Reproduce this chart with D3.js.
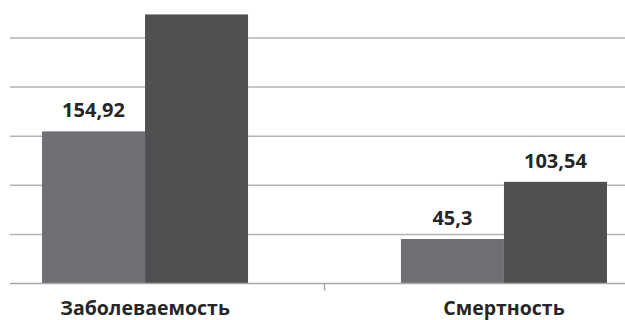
<!DOCTYPE html>
<html><head><meta charset="utf-8">
<script src="https://cdn.jsdelivr.net/npm/d3@7"></script>
<style>body{margin:0;background:#fff;}svg{display:block;}</style>
</head><body>
<svg id="c" width="625" height="320"></svg>
<script>
const categories = ["Заболеваемость", "Смертность"];
const series = ["s1", "s2"];
const values1 = [154.92, 45.3];
const values2 = [274, 103.54];
const labels1 = ["154,92", "45,3"];
const labels2 = ["", "103,54"];
const yTicks = [0, 50, 100, 150, 200, 250, 300];
const colors = ["#6f7074", "#505052"];

const svg = d3.select("#c");
const y = d3.scaleLinear().domain([0, 300]).range([283.5, -11.1]);
const x = d3.scaleBand().domain(categories).range([-34.4, 683.4]).padding(0);
const xs = d3.scaleBand().domain(series).range([0, x.bandwidth()]).paddingInner(0).paddingOuter(0.742);

// gridlines
svg.append("g").selectAll("line").data(yTicks.filter(d => d > 0)).join("line")
  .attr("x1", 10).attr("x2", 625)
  .attr("y1", d => y(d)).attr("y2", d => y(d))
  .attr("stroke", "#b3b3b3").attr("stroke-width", 1.5);

const data = categories.map((c, i) => ({c, vals: [values1[i], values2[i]], labs: [labels1[i], labels2[i]]}));
const g = svg.append("g").selectAll("g").data(data).join("g")
  .attr("transform", d => `translate(${x(d.c)},0)`);
g.selectAll("rect").data(d => d.vals.map((v, j) => ({v, s: series[j], j}))).join("rect")
  .attr("x", d => xs(d.s)).attr("width", xs.bandwidth())
  .attr("y", d => y(d.v)).attr("height", d => y(0) - y(d.v))
  .attr("fill", d => colors[d.j]);
g.selectAll("text").data(d => d.vals.map((v, j) => ({v, s: series[j], lab: d.labs[j]})).filter(d => d.lab)).join("text")
  .attr("x", d => xs(d.s) + xs.bandwidth() / 2).attr("y", d => y(d.v) - 14)
  .attr("text-anchor", "middle")
  .attr("font-family", "Open Sans, sans-serif").attr("font-weight", "bold")
  .attr("font-size", 20).attr("fill", "#262626")
  .text(d => d.lab);

// x axis
const xAxis = d3.axisBottom(x).tickSize(0).tickPadding(17.5);
const ax = svg.append("g").attr("transform", `translate(0,${y(0)})`).call(xAxis);
ax.select(".domain").remove();
ax.selectAll("text").attr("font-family", "Open Sans, sans-serif").attr("font-weight", "bold")
  .attr("font-size", 19.5).attr("fill", "#262626").attr("dy", "0.71em");
svg.append("line").attr("x1", 10).attr("x2", 625).attr("y1", y(0)).attr("y2", y(0))
  .attr("stroke", "#a8a8a8").attr("stroke-width", 1.5);
// separator tick between categories
const mid = (x(categories[0]) + x.bandwidth() + x(categories[1])) / 2;
svg.append("line").attr("x1", mid).attr("x2", mid).attr("y1", y(0)).attr("y2", y(0) + 7)
  .attr("stroke", "#a8a8a8").attr("stroke-width", 1.5);
</script>
</body></html>
